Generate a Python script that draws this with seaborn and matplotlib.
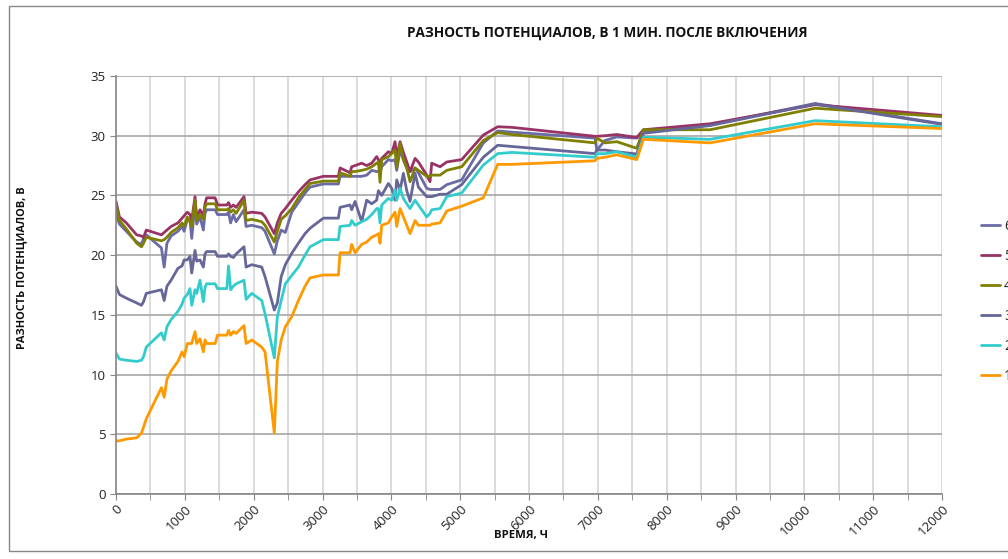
import numpy as np
import pandas as pd
import matplotlib
matplotlib.use("Agg")
import matplotlib.pyplot as plt
import seaborn as sns
from matplotlib.ticker import MultipleLocator

# time, hours (shared by all series)
hours = [0, 50, 150, 300, 370, 400, 440, 660, 700, 740, 800, 900, 960, 990, 1036, 1075,
         1100, 1148, 1172, 1220, 1269, 1293, 1317, 1440, 1475, 1610, 1635, 1665, 1705,
         1745, 1860, 1890, 1972, 2117, 2165, 2300, 2344, 2400, 2460, 2553, 2650, 2746,
         2819, 3013, 3231, 3255, 3400, 3424, 3473, 3569, 3642, 3715, 3787, 3812, 3836,
         3860, 3957, 4005, 4054, 4078, 4127, 4175, 4224, 4272, 4345, 4393, 4514, 4562,
         4587, 4708, 4805, 5022, 5337, 5545, 5750, 6960, 6985, 7106, 7275, 7565, 7662,
         8631, 10157, 12000]

s6 = [23.4, 22.6, 22.0, 21.1, 20.9, 21.4, 21.7, 20.6, 19.0, 21.0, 21.6, 22.0, 22.4, 22.0,
      23.0, 22.9, 21.4, 24.3, 22.6, 23.2, 22.1, 23.5, 23.8, 23.8, 23.4, 23.4, 23.6, 22.7,
      23.4, 22.8, 23.8, 22.4, 22.5, 22.3, 22.0, 20.1, 21.2, 22.1, 21.9, 23.6, 24.4, 25.2,
      25.7, 25.96, 25.96, 26.6, 26.6, 26.6, 26.6, 26.6, 26.7, 27.1, 27.0, 27.0, 26.9,
      27.4, 28.0, 27.9, 28.0, 27.1, 28.8, 28.0, 27.3, 27.0, 27.3, 26.9, 25.6, 25.5,
      25.5, 25.5, 25.9, 26.3, 29.4, 30.4, 30.3, 29.8, 28.8, 29.6, 29.9, 29.8, 30.26,
      30.9, 32.7, 31.0]
s5 = [24.5, 23.2, 22.7, 21.7, 21.6, 21.5, 22.1, 21.7, 21.9, 22.1, 22.4, 22.7, 23.1, 23.3,
      23.6, 23.4, 22.9, 24.9, 23.1, 23.8, 23.3, 24.3, 24.8, 24.8, 24.2, 24.2, 24.4, 24.0,
      24.2, 24.0, 24.9, 23.5, 23.6, 23.5, 23.2, 21.8, 22.7, 23.5, 23.9, 24.6, 25.3, 25.9,
      26.3, 26.6, 26.6, 27.3, 26.9, 27.4, 27.5, 27.7, 27.5, 27.7, 28.25, 28.0, 27.8,
      28.1, 28.66, 28.5, 29.5, 28.25, 29.5, 28.6, 27.8, 27.0, 28.1, 27.8, 26.7, 26.15,
      27.7, 27.4, 27.8, 28.0, 30.06, 30.75, 30.7, 29.95, 29.95, 30.0, 30.1, 29.85, 30.5,
      31.0, 32.6, 31.7]
s4 = [24.2, 22.9, 22.2, 21.0, 20.7, 21.0, 21.5, 21.2, 21.3, 21.5, 21.9, 22.3, 22.7, 22.4,
      23.2, 22.8, 22.4, 24.6, 22.9, 23.4, 23.0, 24.0, 24.3, 24.3, 23.8, 23.8, 23.9, 23.6,
      23.8, 23.5, 24.6, 22.9, 23.0, 22.8, 22.5, 21.1, 22.0, 23.0, 23.3, 23.9, 24.8, 25.5,
      26.0, 26.2, 26.2, 26.9, 26.6, 27.0, 27.0, 27.1, 27.2, 27.4, 27.7, 27.8, 26.1,
      28.0, 28.25, 28.5, 28.8, 27.3, 29.36, 28.0, 27.3, 26.15, 27.3, 27.1, 26.6, 26.6,
      26.7, 26.7, 27.1, 27.4, 29.6, 30.26, 30.1, 29.4, 29.8, 29.4, 29.5, 28.95, 30.5,
      30.5, 32.3, 31.6]
s3 = [17.4, 16.7, 16.4, 16.0, 15.8, 16.1, 16.8, 17.1, 16.2, 17.4, 17.9, 18.9, 19.1, 19.6,
      19.6, 19.9, 18.5, 20.4, 19.5, 19.6, 19.0, 20.1, 20.3, 20.3, 19.9, 19.9, 20.1, 19.9,
      19.8, 20.1, 20.7, 19.0, 19.2, 19.0, 18.2, 15.4, 16.0, 18.2, 19.2, 20.15, 21.0, 21.8,
      22.25, 23.1, 23.1, 24.0, 24.2, 23.8, 24.5, 22.8, 24.6, 24.3, 24.6, 25.4, 25.2,
      25.0, 26.0, 25.6, 24.6, 26.3, 25.45, 26.85, 25.4, 24.5, 26.85, 25.7, 24.9, 24.9,
      24.9, 25.1, 25.1, 25.9, 28.2, 29.2, 29.1, 28.5, 28.8, 28.8, 28.66, 28.47, 30.2,
      30.85, 32.65, 30.95]
s2 = [11.8, 11.3, 11.2, 11.1, 11.2, 11.5, 12.3, 13.5, 12.9, 14.0, 14.6, 15.3, 15.9, 16.4,
      16.7, 17.2, 15.8, 17.1, 16.8, 17.9, 16.1, 17.3, 17.6, 17.6, 17.2, 17.2, 19.1, 17.1,
      17.4, 17.6, 17.9, 16.3, 16.8, 16.2, 15.1, 11.4, 14.85, 16.2, 17.6, 18.3, 19.0, 20.0,
      20.7, 21.3, 21.3, 22.4, 22.5, 22.9, 22.5, 22.8, 23.0, 23.4, 23.9, 23.9, 22.7,
      24.2, 24.75, 24.6, 25.45, 24.6, 25.6, 24.75, 24.3, 23.9, 24.6, 24.2, 23.2, 23.5,
      23.8, 23.9, 24.9, 25.2, 27.55, 28.5, 28.6, 28.2, 28.5, 28.5, 28.66, 28.2, 29.87,
      29.7, 31.26, 30.75]
s1 = [4.45, 4.45, 4.6, 4.7, 5.1, 5.6, 6.3, 8.9, 8.1, 9.6, 10.3, 11.1, 11.9, 11.5, 12.6,
      12.6, 12.6, 13.6, 12.6, 13.0, 11.9, 12.9, 12.6, 12.6, 13.3, 13.3, 13.7, 13.3, 13.6,
      13.45, 14.1, 12.6, 12.9, 12.3, 11.9, 5.1, 11.1, 12.9, 14.0, 14.85, 16.2, 17.4, 18.1,
      18.34, 18.34, 20.2, 20.2, 20.9, 20.2, 20.9, 21.1, 21.5, 21.7, 21.8, 21.0, 22.5,
      22.7, 23.2, 23.6, 22.4, 23.9, 23.2, 22.5, 21.8, 22.9, 22.5, 22.5, 22.5, 22.6, 22.7,
      23.7, 24.1, 24.8, 27.6, 27.6, 27.9, 28.1, 28.2, 28.4, 28.0, 29.7, 29.4, 31.0, 30.6]

names = ["6", "5", "4", "3", "2", "1"]
colors = ["#6b6ba6", "#993366", "#808000", "#666699", "#33cccc", "#ff9900"]

title = "РАЗНОСТЬ ПОТЕНЦИАЛОВ, В 1 МИН. ПОСЛЕ ВКЛЮЧЕНИЯ"
xlab = "ВРЕМЯ, Ч"
ylab = "РАЗНОСТЬ ПОТЕНЦИАЛОВ, В"

sns.set_style("white")
plt.rcParams["font.family"] = ["Open Sans", "DejaVu Sans"]

fig = plt.figure(figsize=(10.08, 5.59), dpi=100)
ax = fig.add_axes([116 / 1008, 1 - 494 / 559, 826 / 1008, 418 / 559])

for name, vals, col in zip(names, [s6, s5, s4, s3, s2, s1], colors):
    df = pd.DataFrame({"hours": hours, "value": vals})
    sns.lineplot(data=df, x="hours", y="value", ax=ax, color=col, lw=2.0,
                 label=name, sort=False, estimator=None)

ax.set_xlim(0, 12000)
ax.set_ylim(0, 35)
ax.xaxis.set_major_locator(MultipleLocator(1000))
ax.xaxis.set_minor_locator(MultipleLocator(500))
ax.yaxis.set_major_locator(MultipleLocator(5))
ax.grid(True, axis="x", which="both", color="#d9d9d9", lw=1.3)
ax.grid(True, axis="y", which="major", color="#a6a6a6", lw=1.2)
ax.set_axisbelow(True)
for s in ["top", "right"]:
    ax.spines[s].set_visible(False)
for s in ["left", "bottom"]:
    ax.spines[s].set_color("#868686")
    ax.spines[s].set_linewidth(1.2)
ax.tick_params(axis="both", which="both", direction="out", length=4, color="#868686",
               labelsize=9.5, labelcolor="#222222", bottom=True, left=True)
ax.tick_params(axis="x", which="major", pad=2)
for lbl in ax.get_xticklabels():
    lbl.set_rotation(45)
    lbl.set_ha("right")
    lbl.set_rotation_mode("anchor")

ax.set_xlabel(xlab, fontsize=8.2, fontweight="bold", color="#111111")
ax.xaxis.set_label_coords((521 - 116) / 826, -(530 - 494) / 418)
ax.set_ylabel(ylab, fontsize=7.9, fontweight="bold", color="#111111")
ax.yaxis.set_label_coords((27 - 116) / 826, (494 - 268) / 418)

fig.text(607 / 1008, 1 - 33 / 559, title, ha="center", va="center",
         fontsize=9.8, fontweight="bold", color="#111111")

ax.legend(loc="upper left", bbox_to_anchor=((981 - 116) / 826, (494 - 219) / 418),
          frameon=False, fontsize=10, labelspacing=1.08, handlelength=1.35,
          handletextpad=0.3, borderaxespad=0, borderpad=0)

# chart area border
fig.add_artist(plt.Rectangle((9 / 1008, 1 - 551 / 559), 1.0, 545 / 559,
                             transform=fig.transFigure, fill=False,
                             edgecolor="#888888", lw=1.0))

fig.savefig("out.png", dpi=100)
